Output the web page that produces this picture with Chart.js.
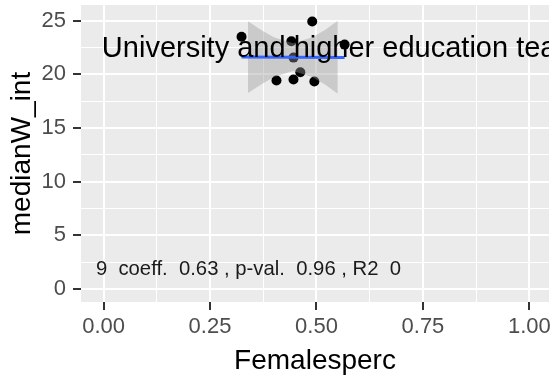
<!DOCTYPE html>
<html>
<head>
<meta charset="utf-8">
<script src="https://cdn.jsdelivr.net/npm/chart.js@4/dist/chart.umd.min.js"></script>
<style>
  html, body { margin: 0; padding: 0; background: #fff; }
  #wrap { width: 556px; height: 381px; }
</style>
</head>
<body>
<div id="wrap"><canvas id="chart" width="556" height="381"></canvas></div>
<script>
// scatter points
const femalesPerc = [0.324, 0.490, 0.441, 0.566, 0.446, 0.462, 0.406, 0.446, 0.495];
const medianWInt = [23.5, 24.93, 23.08, 22.77, 21.56, 20.2, 19.42, 19.52, 19.33];

// smoother (lm) line and its confidence band
const fitX = [0.324, 0.566];
const fitY = [21.62, 21.56];
const bandX = [0.339, 0.37, 0.40, 0.445, 0.49, 0.52, 0.55];
const bandUpper = [24.95, 24.14, 23.45, 22.9, 23.45, 24.14, 25.0];
const bandLower = [18.25, 19.06, 19.75, 20.3, 19.75, 19.06, 18.2];

// axis ticks (major + minor grid)
const xTicks = [0, 0.125, 0.25, 0.375, 0.5, 0.625, 0.75, 0.875, 1];
const xMajor = [0, 0.25, 0.5, 0.75, 1];
const yTicks = [0, 2.5, 5, 7.5, 10, 12.5, 15, 17.5, 20, 22.5, 25];
const yMajor = [0, 5, 10, 15, 20, 25];

const occupation = 'University and higher education teaching professionals';
const statsLabel = '9  coeff.  0.63 , p-val.  0.96 , R2  0';

const FONT = "'Liberation Sans', Arial, sans-serif";

const toXY = (xs, ys) => xs.map((x, i) => ({x: x, y: ys[i]}));

const panelPlugin = {
    id: 'panel',
    beforeDraw(chart) {
        const {ctx, chartArea: a} = chart;
        ctx.save();
        ctx.fillStyle = '#EBEBEB';
        ctx.fillRect(a.left, a.top, a.right - a.left, a.bottom - a.top);
        ctx.restore();
    },
    afterDatasetsDraw(chart) {
        const {ctx, chartArea: a, scales} = chart;
        ctx.save();
        ctx.beginPath();
        ctx.rect(a.left, a.top, a.right - a.left, a.bottom - a.top);
        ctx.clip();
        ctx.fillStyle = '#000';
        ctx.textBaseline = 'middle';
        ctx.textAlign = 'left';
        ctx.font = '29px ' + FONT;
        ctx.fillText(occupation, scales.x.getPixelForValue(-0.004), scales.y.getPixelForValue(22.4));
        ctx.fillStyle = '#1a1a1a';
        ctx.font = '20.3px ' + FONT;
        ctx.fillText(statsLabel, scales.x.getPixelForValue(-0.018), scales.y.getPixelForValue(1.86));
        ctx.restore();
    }
};

const isMajor = (list, v) => list.some(m => Math.abs(m - v) < 1e-9);

new Chart(document.getElementById('chart'), {
    type: 'scatter',
    data: {
        datasets: [
            {
                data: toXY(femalesPerc, medianWInt),
                pointRadius: 5,
                pointBackgroundColor: '#000',
                pointBorderWidth: 0,
                order: 4
            },
            {
                type: 'line',
                data: toXY(bandX, bandUpper),
                borderWidth: 0,
                pointRadius: 0,
                fill: '+1',
                backgroundColor: 'rgba(153,153,153,0.4)',
                order: 3
            },
            {
                type: 'line',
                data: toXY(bandX, bandLower),
                borderWidth: 0,
                pointRadius: 0,
                fill: false,
                order: 3
            },
            {
                type: 'line',
                data: toXY(fitX, fitY),
                borderColor: '#3366FF',
                borderWidth: 3,
                pointRadius: 0,
                fill: false,
                order: 2
            }
        ]
    },
    options: {
        responsive: false,
        animation: false,
        events: [],
        layout: { padding: { left: 0, right: 7, top: 5, bottom: 0 } },
        plugins: { legend: { display: false }, tooltip: { enabled: false } },
        scales: {
            x: {
                type: 'linear',
                min: -0.053,
                max: 1.046,
                afterBuildTicks: s => { s.ticks = xTicks.map(v => ({value: v})); },
                afterFit: s => {
                    s.height = 79;
                    s.paddingLeft = 0;
                    s.paddingRight = 0;
                },
                border: { display: false },
                grid: {
                    color: '#fff',
                    lineWidth: c => isMajor(xMajor, c.tick.value) ? 2 : 1,
                    tickLength: 8,
                    tickWidth: 2,
                    tickColor: c => isMajor(xMajor, c.tick.value) ? '#333' : 'rgba(0,0,0,0)'
                },
                ticks: {
                    autoSkip: false,
                    maxRotation: 0,
                    padding: 4,
                    color: '#4D4D4D',
                    font: { family: FONT, size: 22 },
                    callback: v => isMajor(xMajor, v) ? v.toFixed(2) : ''
                },
                title: {
                    display: true,
                    text: 'Femalesperc',
                    color: '#000',
                    font: { family: FONT, size: 28 },
                    padding: { top: 0, bottom: 3 }
                }
            },
            y: {
                type: 'linear',
                min: -1.21,
                max: 26.46,
                afterBuildTicks: s => { s.ticks = yTicks.map(v => ({value: v})); },
                afterFit: s => {
                    s.width = 81;
                    s.paddingTop = 0;
                    s.paddingBottom = 0;
                },
                border: { display: false },
                grid: {
                    color: '#fff',
                    lineWidth: c => isMajor(yMajor, c.tick.value) ? 2 : 1,
                    tickLength: 8,
                    tickWidth: 2,
                    tickColor: c => isMajor(yMajor, c.tick.value) ? '#333' : 'rgba(0,0,0,0)'
                },
                ticks: {
                    autoSkip: false,
                    padding: 7,
                    color: '#4D4D4D',
                    font: { family: FONT, size: 22 },
                    callback: v => isMajor(yMajor, v) ? String(v) : ''
                },
                title: {
                    display: true,
                    text: 'medianW_int',
                    color: '#000',
                    font: { family: FONT, size: 28 },
                    padding: { top: 5, bottom: 0 }
                }
            }
        }
    },
    plugins: [panelPlugin]
});
</script>
</body>
</html>
